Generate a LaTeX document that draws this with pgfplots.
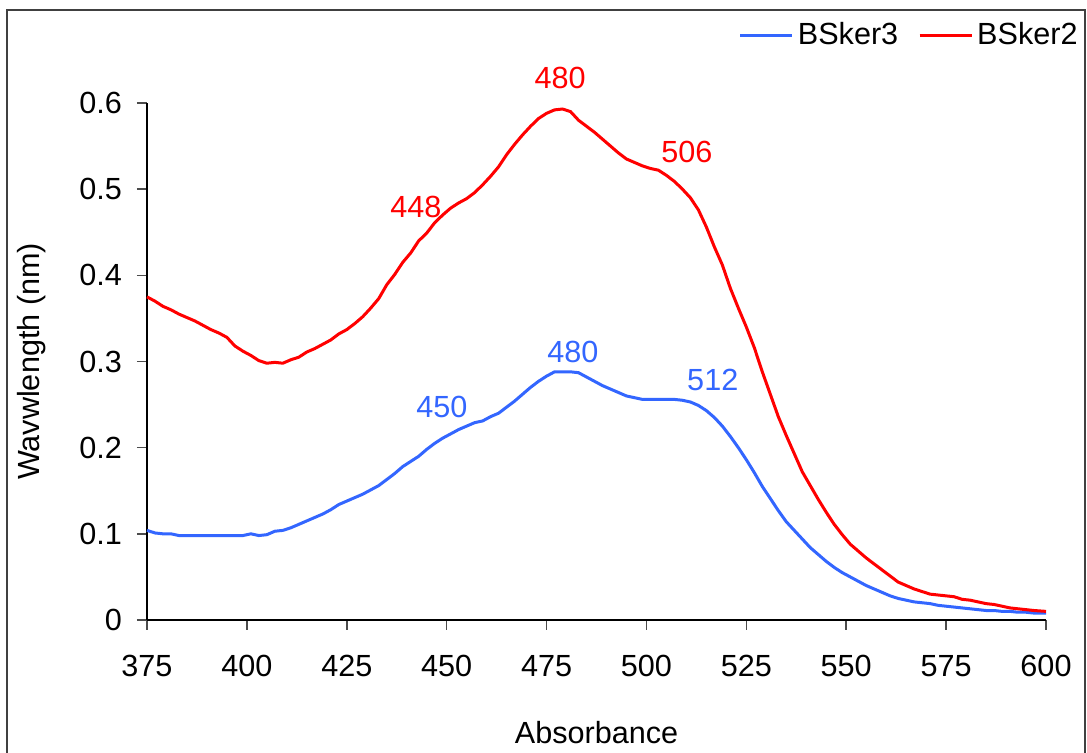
\documentclass[border=0pt]{standalone}
\usepackage{fontspec}
\setmainfont{Liberation Sans}
\usepackage{pgfplots}
\pgfplotsset{compat=1.18}
\definecolor{skblue}{RGB}{51,102,255}
\definecolor{skred}{RGB}{255,0,0}
\definecolor{framegray}{RGB}{64,64,64}

\begin{document}
\begin{tikzpicture}
  % page = whole figure, frame runs off the bottom
  \path[use as bounding box] (-73.5pt,-66.5pt) rectangle (470pt,310pt);
  \draw[framegray, line width=1pt] (-70pt,-80pt) -- (-70pt,305pt) -- (469pt,305pt) -- (469pt,-80pt);
  \begin{axis}[
      scale only axis,
      width=449.5pt, height=258.5pt,
      xmin=375, xmax=600, ymin=0, ymax=0.6,
      xtick={375,400,...,600},
      ytick={0,0.1,0.2,0.3,0.4,0.5,0.6},
      axis x line*=bottom, axis y line*=left,
      axis line style={black, line width=0.8pt, -},
      tick align=outside,
      major tick length=5pt,
      tick style={black!70, line width=0.8pt},
      font=\fontsize{15.3}{18}\selectfont,
      /pgf/number format/assume math mode=true,
      /pgf/number format/fixed, /pgf/number format/precision=1,
      yticklabel style={xshift=-4pt},
      xticklabel style={yshift=-9pt},
      xlabel={Absorbance},
      ylabel={Wavwlength (nm)},
      xlabel style={at={(axis description cs:0.5,-0.2186)}, anchor=center},
      ylabel style={at={(axis description cs:-0.128,0.5)}, anchor=center},
      clip=false,
      legend columns=2,
      legend style={at={(axis description cs:1.0467,1.1315)}, anchor=east,
        draw=none, fill=none, font=\fontsize{15.3}{18}\selectfont,
        /tikz/every even column/.append style={column sep=8pt}},
      legend image code/.code={\draw[#1] (0pt,0pt) -- (26pt,0pt);},
    ]
    % BSker3
    \addplot[skblue, line width=1.5pt] coordinates {
      (375,0.104) (377,0.101) (379,0.100) (381,0.100) (383,0.098) (385,0.098)
      (387,0.098) (389,0.098) (391,0.098) (393,0.098) (395,0.098) (397,0.098)
      (399,0.098) (401,0.100) (403,0.098) (405,0.099) (407,0.103) (409,0.104)
      (411,0.107) (413,0.111) (415,0.115) (417,0.119) (419,0.123) (421,0.128)
      (423,0.134) (425,0.138) (427,0.142) (429,0.146) (431,0.151) (433,0.156)
      (435,0.163) (437,0.170) (439,0.178) (441,0.184) (443,0.190) (445,0.198)
      (447,0.205) (449,0.211) (451,0.216) (453,0.221) (455,0.225) (457,0.229)
      (459,0.231) (461,0.236) (463,0.240) (465,0.247) (467,0.254) (469,0.262)
      (471,0.270) (473,0.277) (475,0.283) (477,0.288) (479,0.288) (481,0.288)
      (483,0.287) (485,0.282) (487,0.277) (489,0.272) (491,0.268) (493,0.264)
      (495,0.260) (497,0.258) (499,0.256) (501,0.256) (503,0.256) (505,0.256)
      (507,0.256) (509,0.255) (511,0.253) (513,0.249) (515,0.243) (517,0.235)
      (519,0.225) (521,0.213) (523,0.200) (525,0.186) (527,0.171) (529,0.155)
      (531,0.141) (533,0.127) (535,0.114) (537,0.104) (539,0.094) (541,0.084)
      (543,0.076) (545,0.068) (547,0.061) (549,0.055) (551,0.050) (553,0.045)
      (555,0.040) (557,0.036) (559,0.032) (561,0.028) (563,0.025) (565,0.023)
      (567,0.021) (569,0.020) (571,0.019) (573,0.017) (575,0.016) (577,0.015)
      (579,0.014) (581,0.013) (583,0.012) (585,0.011) (587,0.011) (589,0.010)
      (591,0.010) (593,0.009) (595,0.009) (597,0.008) (600,0.008)
    };
    % BSker2
    \addplot[skred, line width=1.5pt] coordinates {
      (375,0.375) (377,0.370) (379,0.364) (381,0.360) (383,0.355) (385,0.351)
      (387,0.347) (389,0.342) (391,0.337) (393,0.333) (395,0.328) (397,0.318)
      (399,0.312) (401,0.307) (403,0.301) (405,0.298) (407,0.299) (409,0.298)
      (411,0.302) (413,0.305) (415,0.311) (417,0.315) (419,0.320) (421,0.325)
      (423,0.332) (425,0.337) (427,0.344) (429,0.352) (431,0.362) (433,0.373)
      (435,0.389) (437,0.401) (439,0.415) (441,0.426) (443,0.440) (445,0.449)
      (447,0.461) (449,0.470) (451,0.478) (453,0.484) (455,0.489) (457,0.496)
      (459,0.505) (461,0.515) (463,0.526) (465,0.540) (467,0.552) (469,0.563)
      (471,0.573) (473,0.582) (475,0.588) (477,0.592) (479,0.593) (481,0.590)
      (483,0.580) (485,0.573) (487,0.566) (489,0.558) (491,0.550) (493,0.542)
      (495,0.535) (497,0.531) (499,0.527) (501,0.524) (503,0.522) (505,0.516)
      (507,0.509) (509,0.500) (511,0.490) (513,0.476) (515,0.456) (517,0.433)
      (519,0.412) (521,0.385) (523,0.362) (525,0.340) (527,0.316) (529,0.288)
      (531,0.262) (533,0.236) (535,0.214) (537,0.193) (539,0.172) (541,0.156)
      (543,0.140) (545,0.125) (547,0.111) (549,0.099) (551,0.088) (553,0.080)
      (555,0.072) (557,0.065) (559,0.058) (561,0.051) (563,0.044) (565,0.040)
      (567,0.036) (569,0.033) (571,0.030) (573,0.029) (575,0.028) (577,0.027)
      (579,0.024) (581,0.023) (583,0.021) (585,0.019) (587,0.018) (589,0.016)
      (591,0.014) (593,0.013) (595,0.012) (597,0.011) (600,0.010)
    };
    \legend{BSker3, BSker2}
    % peak labels
    \node[skred] at (axis cs:478.4,0.629) {480};
    \node[skred] at (axis cs:442.3,0.479) {448};
    \node[skred] at (axis cs:510.1,0.543) {506};
    \node[skblue] at (axis cs:481.6,0.311) {480};
    \node[skblue] at (axis cs:448.8,0.247) {450};
    \node[skblue] at (axis cs:516.6,0.279) {512};
  \end{axis}
\end{tikzpicture}
\end{document}
